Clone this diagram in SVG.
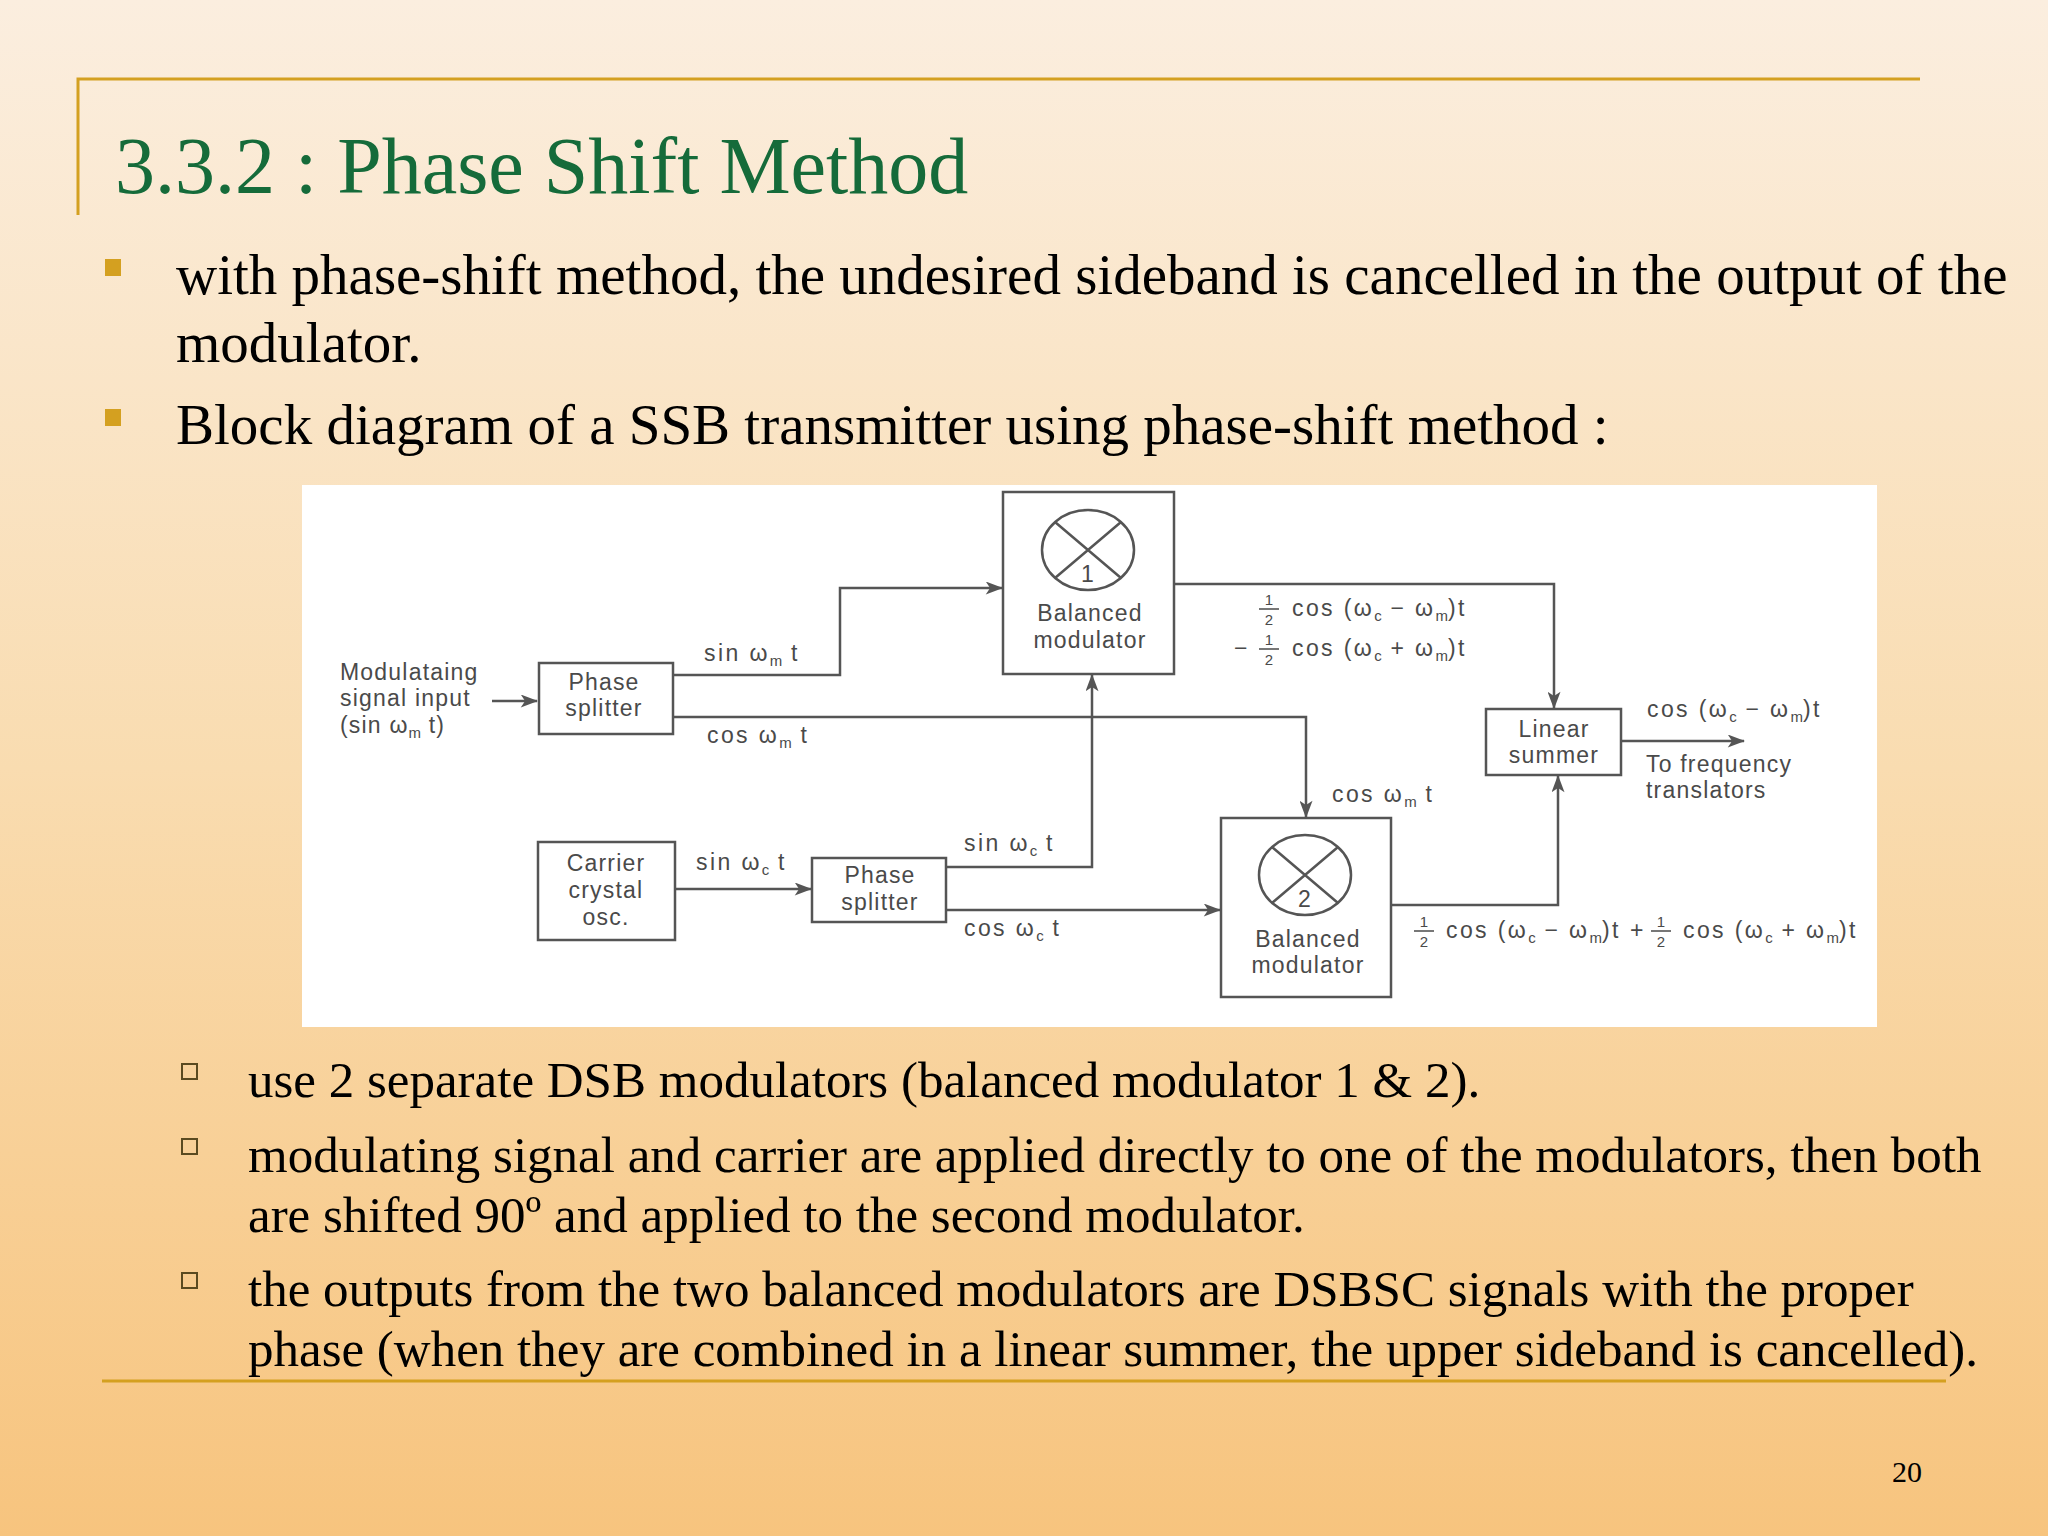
<svg xmlns="http://www.w3.org/2000/svg" width="2048" height="1536" viewBox="0 0 2048 1536">
<defs>
<linearGradient id="bg" x1="0" y1="0" x2="0" y2="1">
<stop offset="0" stop-color="#fbeedf"/><stop offset="0.5" stop-color="#f9dcb0"/><stop offset="1" stop-color="#f7c47e"/>
</linearGradient>
<marker id="ar" viewBox="0 0 16 12" refX="15" refY="6" markerWidth="18" markerHeight="13" markerUnits="userSpaceOnUse" orient="auto"><path d="M0,0 L16,6 L0,12 L4,6 z" fill="#555"/></marker>
<style>
.slide{font-family:"Liberation Serif","Times New Roman",serif;fill:#000}
.d{font-family:"Liberation Sans",Arial,sans-serif;font-size:23px;letter-spacing:1.2px;fill:#4a4a4a}
.f{letter-spacing:2.4px}
.c{text-anchor:middle}
.s{font-size:15px;letter-spacing:0}
.box{fill:none;stroke:#555;stroke-width:2.5}
.w{fill:none;stroke:#555;stroke-width:2.5}
.gold{stroke:#d4a020;stroke-width:3;fill:none}
</style>
</defs>
<rect width="2048" height="1536" fill="url(#bg)"/>
<path class="gold" d="M78,215 L78,79 L1920,79"/>
<text class="slide" x="115" y="193" font-size="80" style="fill:#156b3a">3.3.2 : Phase Shift Method</text>
<rect x="105" y="259" width="16" height="17" fill="#d4a020"/>
<text class="slide" x="176" y="294" font-size="57">with phase-shift method, the undesired sideband is cancelled in the output of the</text>
<text class="slide" x="176" y="362" font-size="57">modulator.</text>
<rect x="105" y="409" width="16" height="17" fill="#d4a020"/>
<text class="slide" x="176" y="444" font-size="57">Block diagram of a SSB transmitter using phase-shift method :</text>
<rect x="302" y="485" width="1575" height="542" fill="#fff"/>
<g id="bullets2" fill="none" stroke="#5a4a20" stroke-width="2">
<rect x="182" y="1064" width="15" height="15"/><rect x="182" y="1139" width="15" height="15"/><rect x="182" y="1273" width="15" height="15"/>
</g>
<text class="slide" x="248" y="1097" font-size="51">use 2 separate DSB modulators (balanced modulator 1 &amp; 2).</text>
<text class="slide" x="248" y="1172" font-size="51">modulating signal and carrier are applied directly to one of the modulators, then both</text>
<text class="slide" x="248" y="1232" font-size="51">are shifted 90º and applied to the second modulator.</text>
<text class="slide" x="248" y="1306" font-size="51">the outputs from the two balanced modulators are DSBSC signals with the proper</text>
<text class="slide" x="248" y="1366" font-size="51">phase (when they are combined in a linear summer, the upper sideband is cancelled).</text>
<line class="gold" x1="102" y1="1381" x2="1946" y2="1381"/>
<text class="slide" x="1892" y="1482" font-size="30" fill="#333">20</text>

<g id="connectors">
<path class="w" d="M492,701 L537,701" marker-end="url(#ar)"/>
<path class="w" d="M673,675 L840,675 L840,588 L1002,588" marker-end="url(#ar)"/>
<path class="w" d="M673,717 L1306,717 L1306,817" marker-end="url(#ar)"/>
<path class="w" d="M1174,584 L1554,584 L1554,708" marker-end="url(#ar)"/>
<path class="w" d="M675,889 L811,889" marker-end="url(#ar)"/>
<path class="w" d="M946,867 L1092,867 L1092,675" marker-end="url(#ar)"/>
<path class="w" d="M946,910 L1220,910" marker-end="url(#ar)"/>
<path class="w" d="M1391,905 L1558,905 L1558,776" marker-end="url(#ar)"/>
<path class="w" d="M1621,741 L1744,741" marker-end="url(#ar)"/>
</g>

<g id="input"><text class="d" x="340" y="680">Modulataing</text><text class="d" x="340" y="706">signal input</text><text class="d" x="340" y="733">(sin  ω<tspan class="s" dy="5">m</tspan><tspan dy="-5"> t)</tspan></text></g>
<g id="ps1"><rect class="box" x="539" y="663" width="134" height="71"/><text class="d c" x="604" y="690">Phase</text><text class="d c" x="604" y="716">splitter</text></g>
<g id="bm1"><rect class="box" x="1003" y="492" width="171" height="182"/><ellipse class="w" cx="1088" cy="550" rx="46" ry="40"/><path class="w" d="M1055,522 L1121,578 M1121,522 L1055,578"/><text class="d c" x="1088" y="582" font-size="20">1</text><text class="d c" x="1090" y="621">Balanced</text><text class="d c" x="1090" y="648">modulator</text></g>
<g id="summer"><rect class="box" x="1486" y="709" width="135" height="66"/><text class="d c" x="1554" y="737">Linear</text><text class="d c" x="1554" y="763">summer</text></g>
<g id="bm2"><rect class="box" x="1221" y="818" width="170" height="179"/><ellipse class="w" cx="1305" cy="875" rx="46" ry="40"/><path class="w" d="M1272,847 L1338,903 M1338,847 L1272,903"/><text class="d c" x="1305" y="907" font-size="20">2</text><text class="d c" x="1308" y="947">Balanced</text><text class="d c" x="1308" y="973">modulator</text></g>
<g id="osc"><rect class="box" x="538" y="842" width="137" height="98"/><text class="d c" x="606" y="871">Carrier</text><text class="d c" x="606" y="898">crystal</text><text class="d c" x="606" y="925">osc.</text></g>
<g id="ps2"><rect class="box" x="812" y="858" width="134" height="64"/><text class="d c" x="880" y="883">Phase</text><text class="d c" x="880" y="910">splitter</text></g>

<g id="labels">
<text class="d f" x="704" y="661">sin  ω<tspan class="s" dy="5">m</tspan><tspan dy="-5"> t</tspan></text>
<text class="d f" x="707" y="743">cos  ω<tspan class="s" dy="5">m</tspan><tspan dy="-5"> t</tspan></text>
<text class="d f" x="1332" y="802">cos  ω<tspan class="s" dy="5">m</tspan><tspan dy="-5"> t</tspan></text>
<text class="d f" x="696" y="870">sin  ω<tspan class="s" dy="5">c</tspan><tspan dy="-5"> t</tspan></text>
<text class="d f" x="964" y="851">sin  ω<tspan class="s" dy="5">c</tspan><tspan dy="-5"> t</tspan></text>
<text class="d f" x="964" y="936">cos  ω<tspan class="s" dy="5">c</tspan><tspan dy="-5"> t</tspan></text>
<text class="d f" x="1647" y="717">cos (ω<tspan class="s" dy="5">c</tspan><tspan dy="-5"> − ω</tspan><tspan class="s" dy="5">m</tspan><tspan dy="-5">)t</tspan></text>
<text class="d" x="1646" y="772">To frequency</text><text class="d" x="1646" y="798">translators</text>
<text class="d c s" x="1269" y="605">1</text><line x1="1259" y1="609" x2="1279" y2="609" stroke="#4a4a4a" stroke-width="1.5"/><text class="d c s" x="1269" y="625">2</text>
<text class="d f" x="1292" y="616">cos (ω<tspan class="s" dy="5">c</tspan><tspan dy="-5"> − ω</tspan><tspan class="s" dy="5">m</tspan><tspan dy="-5">)t</tspan></text>
<text class="d" x="1234" y="656">−</text>
<text class="d c s" x="1269" y="645">1</text><line x1="1259" y1="649" x2="1279" y2="649" stroke="#4a4a4a" stroke-width="1.5"/><text class="d c s" x="1269" y="665">2</text>
<text class="d f" x="1292" y="656">cos (ω<tspan class="s" dy="5">c</tspan><tspan dy="-5"> + ω</tspan><tspan class="s" dy="5">m</tspan><tspan dy="-5">)t</tspan></text>
<text class="d c s" x="1424" y="927">1</text><line x1="1414" y1="931" x2="1434" y2="931" stroke="#4a4a4a" stroke-width="1.5"/><text class="d c s" x="1424" y="947">2</text>
<text class="d f" x="1446" y="938">cos (ω<tspan class="s" dy="5">c</tspan><tspan dy="-5"> − ω</tspan><tspan class="s" dy="5">m</tspan><tspan dy="-5">)t</tspan></text>
<text class="d" x="1630" y="938">+</text>
<text class="d c s" x="1661" y="927">1</text><line x1="1651" y1="931" x2="1671" y2="931" stroke="#4a4a4a" stroke-width="1.5"/><text class="d c s" x="1661" y="947">2</text>
<text class="d f" x="1683" y="938">cos (ω<tspan class="s" dy="5">c</tspan><tspan dy="-5"> + ω</tspan><tspan class="s" dy="5">m</tspan><tspan dy="-5">)t</tspan></text>
</g>
</svg>
